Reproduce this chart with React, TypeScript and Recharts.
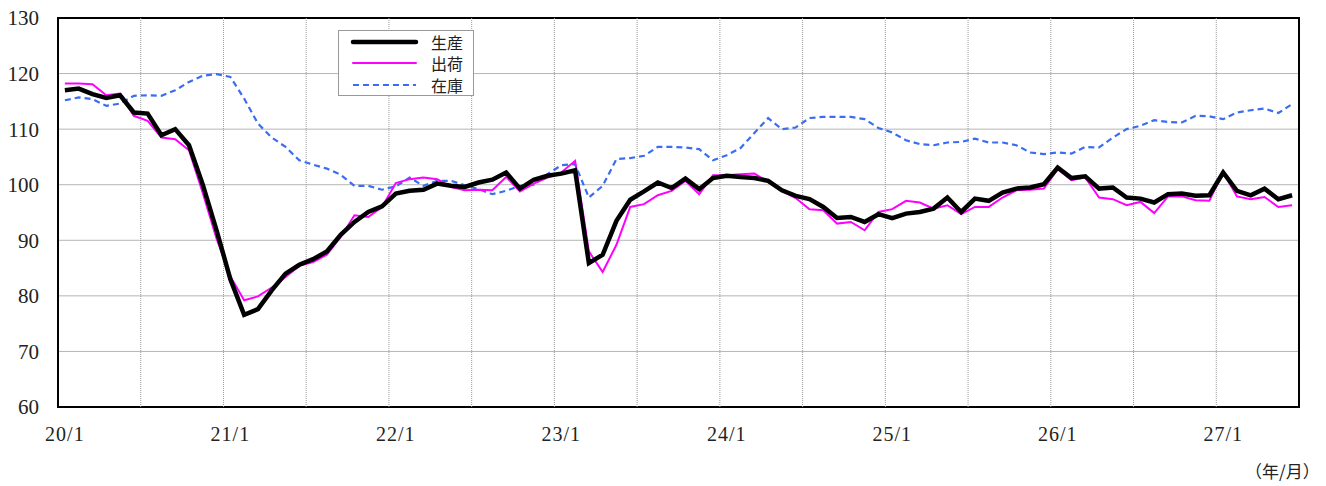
import { LineChart, Line, XAxis, YAxis, CartesianGrid, ReferenceLine, ReferenceArea } from 'recharts'

const START_YEAR = 20
const MONTH_COUNT = 90

const tickLabels = ['20/1', '21/1', '22/1', '23/1', '24/1', '25/1', '26/1', '27/1']
const yTicks = [60, 70, 80, 90, 100, 110, 120, 130]

// 生産
const production = [
  117.0, 117.3, 116.3, 115.6, 116.1, 113.0, 112.8, 108.9, 110.0, 107.1, 100.0, 91.8,
  83.0, 76.6, 77.6, 81.0, 84.0, 85.6, 86.6, 88.0, 91.0, 93.3, 95.1, 96.1,
  98.4, 98.9, 99.1, 100.2, 99.8, 99.6, 100.4, 100.9, 102.2, 99.3, 100.9, 101.6,
  102.0, 102.6, 85.9, 87.4, 93.5, 97.3, 98.8, 100.4, 99.4, 101.1, 99.2, 101.2,
  101.6, 101.4, 101.2, 100.7, 99.0, 98.0, 97.4, 96.0, 94.0, 94.2, 93.3, 94.7,
  94.0, 94.8, 95.1, 95.7, 97.7, 95.1, 97.5, 97.1, 98.6, 99.3, 99.5, 100.1,
  103.1, 101.2, 101.5, 99.3, 99.5, 97.7, 97.5, 96.8, 98.3, 98.4, 98.0, 98.1,
  102.2, 98.9, 98.1, 99.3, 97.4, 98.1,
]

// 出荷
const shipments = [
  118.2, 118.2, 118.1, 116.1, 116.4, 112.4, 111.5, 108.5, 108.2, 106.2, 98.5, 90.3,
  83.5, 79.2, 79.9, 81.5, 83.4, 85.4, 86.1, 87.4, 90.6, 94.5, 94.2, 96.0,
  100.3, 101.0, 101.3, 101.0, 99.6, 99.0, 99.1, 99.0, 101.4, 98.8, 100.2, 101.3,
  102.2, 104.3, 88.0, 84.3, 89.2, 96.0, 96.5, 98.1, 98.9, 100.7, 98.3, 101.7,
  101.7, 101.9, 102.0, 100.5, 98.9, 97.6, 95.6, 95.4, 93.0, 93.3, 91.8, 95.1,
  95.6, 97.1, 96.8, 95.7, 96.3, 94.7, 96.0, 96.0, 97.7, 99.0, 99.1, 99.3,
  102.8, 100.8, 101.3, 97.7, 97.4, 96.3, 96.9, 94.9, 97.9, 97.9, 97.2, 97.1,
  102.3, 97.9, 97.4, 97.8, 96.0, 96.3,
]

// 在庫
const inventory = [
  115.2, 115.7, 115.4, 114.2, 114.6, 116.0, 116.1, 116.0, 117.0, 118.5, 119.6, 119.9,
  119.4, 115.5, 111.0, 108.5, 106.8, 104.4, 103.6, 102.9, 101.8, 99.8, 99.8, 99.1,
  99.7, 101.3, 99.8, 100.7, 100.7, 99.9, 99.2, 98.3, 98.9, 99.8, 100.0, 101.9,
  103.5, 103.7, 97.7, 99.8, 104.6, 104.8, 105.2, 106.8, 106.8, 106.7, 106.4, 104.4,
  105.3, 106.6, 109.3, 112.0, 110.0, 110.3, 112.0, 112.2, 112.2, 112.2, 111.8, 110.2,
  109.4, 108.0, 107.3, 107.1, 107.6, 107.7, 108.3, 107.6, 107.6, 107.1, 105.8, 105.5,
  105.8, 105.6, 106.8, 106.7, 108.5, 110.0, 110.6, 111.6, 111.3, 111.2, 112.4, 112.3,
  111.8, 113.0, 113.4, 113.7, 112.9, 114.5,
]

const SERIES = [
  { key: 'prod', name: '生産', color: '#000000', width: 4.5, dash: undefined },
  { key: 'ship', name: '出荷', color: '#ff00ff', width: 2, dash: undefined },
  { key: 'inv', name: '在庫', color: '#3a6df0', width: 2.2, dash: '6 4' },
]

const rows = Array.from({ length: MONTH_COUNT }, (_, i) => ({
  x: i + 0.5,
  label: `${START_YEAR + Math.floor(i / 12)}/${(i % 12) + 1}`,
  prod: production[i],
  ship: shipments[i],
  inv: inventory[i],
}))

const xTicks = tickLabels.map((_, i) => i * 12 + 0.5)
const gridX = Array.from({ length: MONTH_COUNT / 6 - 1 }, (_, i) => (i + 1) * 6)

function ChartLegend() {
  return (
    <div
      style={{
        position: 'absolute',
        left: 338,
        top: 30,
        width: 136,
        height: 66,
        background: '#fff',
        border: '1px solid #999',
        fontFamily: '"Noto Sans CJK JP", sans-serif',
        fontSize: 16,
        boxSizing: 'border-box',
      }}
    >
      {SERIES.map((s) => (
        <div key={s.key} style={{ display: 'flex', alignItems: 'center', height: 21.5, overflow: 'hidden' }}>
          <svg width={92} height={10} style={{ flexShrink: 0 }}>
            <line
              x1={14}
              x2={77}
              y1={5}
              y2={5}
              stroke={s.color}
              strokeWidth={s.width}
              strokeDasharray={s.dash}
              strokeLinecap={s.dash ? 'butt' : 'round'}
            />
          </svg>
          <span style={{ lineHeight: '18px', color: '#222' }}>{s.name}</span>
        </div>
      ))}
    </div>
  )
}

export default function App() {
  return (
    <div
      style={{
        position: 'absolute',
        left: 0,
        top: 0,
        width: 1326,
        height: 486,
        overflow: 'hidden',
        fontFamily: '"Liberation Serif", serif',
      }}
    >
      <LineChart width={1326} height={486} data={rows} margin={{ top: 18, right: 27, bottom: 49, left: 0 }}>
        <CartesianGrid vertical={false} stroke="#b5b5b5" strokeWidth={1} />
        {gridX.map((g) => (
          <ReferenceLine key={g} x={g} stroke="#9a9a9a" strokeDasharray="1 1" strokeWidth={1} />
        ))}
        <ReferenceArea x1={0} x2={90} y1={60} y2={130} fill="none" stroke="#000" strokeWidth={2} strokeOpacity={1} />
        <XAxis
          type="number"
          dataKey="x"
          domain={[0, MONTH_COUNT]}
          ticks={xTicks}
          tickFormatter={(v: number) => tickLabels[Math.round((v - 0.5) / 12)]}
          interval={0}
          axisLine={false}
          tickLine={false}
          tickSize={0}
          tickMargin={20}
          height={30}
          tick={{ fill: '#222', fontSize: 20, fontFamily: '"Liberation Serif", serif', letterSpacing: 1 }}
        />
        <YAxis
          domain={[60, 130]}
          ticks={yTicks}
          interval={0}
          width={58}
          axisLine={false}
          tickLine={false}
          tickSize={0}
          tickMargin={19}
          tick={{ fill: '#222', fontSize: 21, fontFamily: '"Liberation Serif", serif' }}
        />
        {[...SERIES].reverse().map((s) => (
          <Line
            key={s.key}
            type="linear"
            dataKey={s.key}
            name={s.name}
            stroke={s.color}
            strokeWidth={s.width}
            strokeDasharray={s.dash}
            dot={false}
            activeDot={false}
            isAnimationActive={false}
          />
        ))}
      </LineChart>
      <ChartLegend />
      <div
        style={{
          position: 'absolute',
          left: 1245,
          top: 462,
          fontSize: 17,
          lineHeight: '18px',
          fontFamily: '"Noto Sans CJK JP", sans-serif',
          color: '#222',
          whiteSpace: 'nowrap',
        }}
      >
        （年/月）
      </div>
    </div>
  )
}
